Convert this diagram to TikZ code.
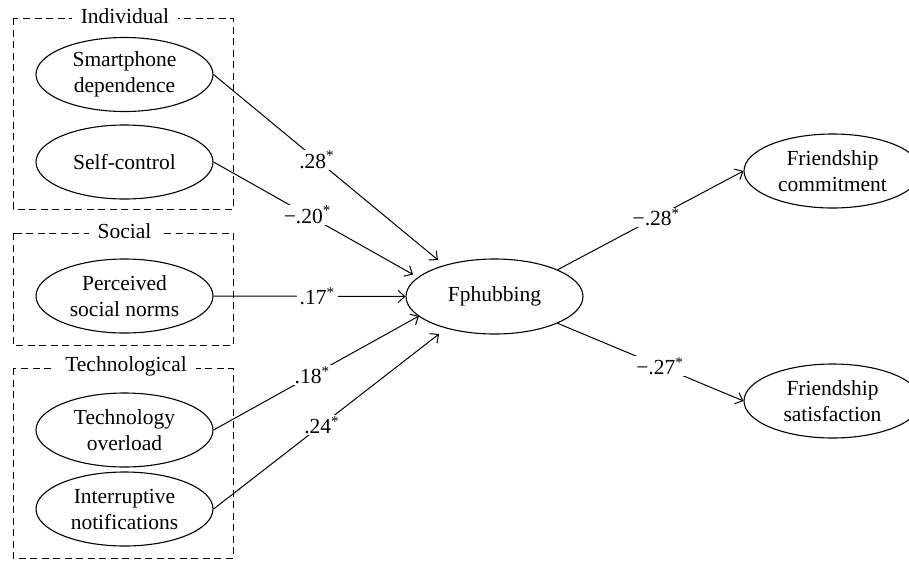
\documentclass[tikz,border=0pt]{standalone}
\usepackage{fontspec}
\setmainfont{Liberation Serif}
\usetikzlibrary{arrows.meta,shapes.geometric}

\begin{document}
\begin{tikzpicture}[x=1pt,y=-1pt,
  txt/.style={font=\fontsize{21.5}{26}\selectfont},
  latent/.style={ellipse, draw, line width=1.1pt, minimum width=177pt,
    minimum height=74pt, inner sep=0pt, align=center, txt},
  group/.style={draw, dash pattern=on 7pt off 4.5pt, line width=1pt},
  grouplabel/.style={fill=white, inner xsep=9pt, inner ysep=1pt, txt},
  effect/.style={line width=1pt, -{Straight Barb[length=6.5pt,width=12pt]}},
  coef/.style={fill=white, inner xsep=3pt, inner ysep=1pt, txt}
]
\useasboundingbox (0,0) rectangle (909,560);

% predictor groups
\draw[group] (13,18) rectangle (233,209);
\node[grouplabel] (lind) at (125,16.5) {Individual};
\draw[group] (13,233) rectangle (233,345);
\node[grouplabel] (lsoc) at (124.5,231) {Social};
\draw[group] (13,368) rectangle (233,558);
\node[grouplabel] (ltec) at (126,366) {Technological};

% latent variables
\node[latent] (sd) at (124.5,74.5) {Smartphone\\dependence};
\node[latent] (sc) at (124.5,162) {Self-control};
\node[latent] (sn) at (124.5,296) {Perceived\\social norms};
\node[latent] (to) at (124.5,430) {Technology\\overload};
\node[latent] (in) at (124.5,509) {Interruptive\\notifications};
\node[latent, minimum height=75pt] (fp) at (494.5,296.5) {Fphubbing};
\node[latent] (fc) at (832.5,171) {Friendship\\commitment};
\node[latent] (fs) at (832.5,401) {Friendship\\satisfaction};

% arrow end points near the outcome
\coordinate (t1) at (438,260);
\coordinate (t2) at (413,274.5);
\coordinate (t4) at (419,316);
\coordinate (t5) at (439,334);

% paths with standardized coefficients
\draw[effect] (sd.east) -- node[coef, pos=0.46] {.28\textsuperscript{*}} (t1);
\draw[effect] (sc.east) -- node[coef, pos=0.47] {−.20\textsuperscript{*}} (t2);
\draw[effect] (sn.east) -- node[coef, pos=0.54] {.17\textsuperscript{*}} (fp.west);
\draw[effect] (to.east) -- node[coef, pos=0.48] {.18\textsuperscript{*}} (t4);
\draw[effect] (in.east) -- node[coef, pos=0.48] {.24\textsuperscript{*}} (t5);
\draw[effect] (fp.23) -- node[coef, pos=0.53] {−.28\textsuperscript{*}} (fc.west);
\draw[effect] (fp.-23) -- node[coef, pos=0.55] {−.27\textsuperscript{*}} (fs.west);
\end{tikzpicture}
\end{document}
